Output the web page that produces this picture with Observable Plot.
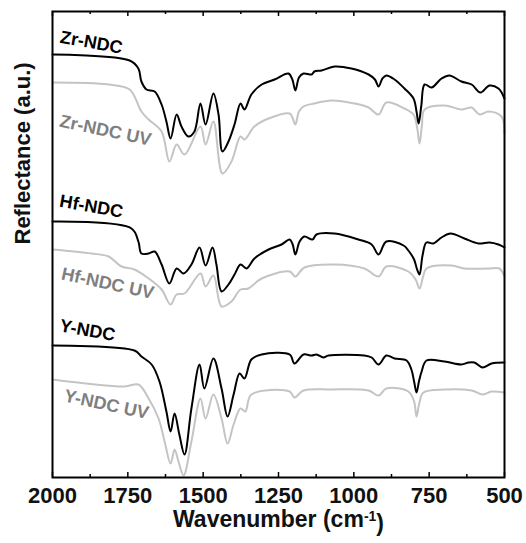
<!DOCTYPE html>
<html>
<head>
<meta charset="utf-8">
<script src="https://cdn.jsdelivr.net/npm/d3@7"></script>
<script src="https://cdn.jsdelivr.net/npm/@observablehq/plot@0.6"></script>
<style>
  html, body { margin: 0; padding: 0; background: #fff; }
  #chart svg { font-family: "Liberation Sans", Arial, Helvetica, sans-serif; }
</style>
</head>
<body>
<div id="chart"></div>
<script>
// ---- Data (wavenumber in cm-1, reflectance in arbitrary units) ----
const zrWn   = [2000,1744,1715,1705,1688,1661,1638,1622,1608,1588,1572,1549,1529,1509,1492,1466,1449,1436,1416,1396,1376,1363,1340,1306,1263,1217,1204,1194,1182,1167,1140,1131,1107,1064,1008,951,930,918,905,892,865,832,802,792,785,776,765,742,709,683,643,609,580,550,520,500];
const zrVal  = [423,417,409,396,388,386,373,356,339,363,351,341,346,374,353,384,363,326,336,353,374,368,383,393,398,404,398,387,400,404,403,406,407,411,409,403,398,391,399,402,398,389,379,366,354,372,393,390,399,402,396,393,385,392,389,379];
const zrUvWn = [2000,1814,1744,1705,1681,1638,1612,1588,1562,1509,1492,1466,1436,1406,1376,1363,1330,1283,1213,1204,1194,1182,1167,1131,1074,998,951,918,892,832,802,790,782,774,765,699,643,609,583,553,510,500];
const zrUvVal= [395,393,388,366,358,346,316,333,323,351,333,356,304,316,341,338,351,359,364,360,353,366,371,374,377,374,370,363,375,369,363,350,334,352,368,372,368,370,363,366,361,344];

const hfWn   = [2000,1738,1715,1705,1681,1661,1638,1612,1588,1565,1539,1512,1492,1469,1456,1439,1416,1396,1376,1356,1330,1283,1240,1213,1203,1194,1180,1164,1137,1124,1064,985,941,918,892,835,819,800,790,782,772,759,736,709,679,633,586,550,520,500];
const hfVal  = [256,249,236,224,224,226,213,194,209,204,213,230,212,230,213,186,193,203,213,209,219,228,233,238,233,223,236,241,238,243,244,238,233,223,236,232,227,218,208,203,222,235,234,240,244,239,234,235,233,230];
const hfUvWn = [2000,1871,1814,1771,1728,1681,1638,1608,1588,1562,1509,1492,1466,1439,1406,1376,1350,1306,1213,1194,1164,1064,965,918,892,819,795,782,770,759,676,633,553,517,500];
const hfUvVal= [228,224,221,211,208,199,188,173,183,184,204,191,202,171,176,188,189,199,206,201,210,213,209,201,211,206,198,189,201,209,212,209,209,209,201];

const yWn    = [2000,1728,1705,1671,1645,1622,1608,1595,1579,1562,1539,1512,1496,1466,1439,1419,1399,1379,1363,1340,1306,1213,1197,1167,1140,1124,1101,1084,965,941,918,892,865,825,809,800,792,784,775,759,699,643,619,600,573,543,500];
const yVal   = [132,127,121,113,96,66,46,64,43,23,69,113,89,119,89,61,83,104,99,118,123,123,114,123,122,123,120,122,122,120,113,122,119,117,108,96,85,96,106,117,116,113,115,115,110,114,115];
const yUvWn  = [2000,1761,1715,1681,1648,1628,1608,1595,1582,1565,1539,1509,1492,1466,1439,1419,1399,1376,1360,1340,1213,1197,1167,1074,951,918,892,819,800,792,783,769,699,609,573,543,500];
const yUvVal = [98,91,93,79,59,36,14,28,16,2,36,79,59,83,59,34,53,69,66,83,86,80,87,88,87,82,89,86,76,61,74,85,88,87,83,86,85];

const seriesNames = ["Zr-NDC","Zr-NDC UV","Hf-NDC","Hf-NDC UV","Y-NDC","Y-NDC UV"];
const labelWn  = [1871,1824,1871,1817,1884,1821];
const labelVal = [435,347,271,194,147,73];

const xTicks = [2000,1750,1500,1250,1000,750,500];
const xMinorTicks = [1875,1625,1375,1125,875,625];
const xTitle = "Wavenumber (cm-1)";
const yTitle = "Reflectance (a.u.)";

// ---- Build tables ----
function toRows(name, wn, val) { return wn.map((w, i) => ({series: name, wn: w, r: val[i]})); }
const blackRows = [
  ...toRows("Zr-NDC", zrWn, zrVal),
  ...toRows("Hf-NDC", hfWn, hfVal),
  ...toRows("Y-NDC", yWn, yVal)
];
const grayRows = [
  ...toRows("Zr-NDC UV", zrUvWn, zrUvVal),
  ...toRows("Hf-NDC UV", hfUvWn, hfUvVal),
  ...toRows("Y-NDC UV", yUvWn, yUvVal)
];
const labels = seriesNames.map((s, i) => ({name: s, wn: labelWn[i], r: labelVal[i], uv: s.endsWith("UV")}));

const W = 526, H = 543;
const mT = 11, mB = 66, mL = 52, mR = 22;
const plotH = H - mT - mB;
const BLACK = "#000000", GRAY = "#c4c4c4", GRAYTXT = "#7f7f7f";

const chart = Plot.plot({
  width: W, height: H,
  marginTop: mT, marginBottom: mB, marginLeft: mL, marginRight: mR,
  style: {fontFamily: '"Liberation Sans", Arial, Helvetica, sans-serif', background: "white", overflow: "visible"},
  x: {domain: [2000, 500], axis: null},
  y: {domain: [0, plotH], axis: null},
  marks: [
    Plot.line(grayRows, {x: "wn", y: "r", z: "series", stroke: GRAY, strokeWidth: 2, curve: "catmull-rom"}),
    Plot.line(blackRows, {x: "wn", y: "r", z: "series", stroke: BLACK, strokeWidth: 2, curve: "catmull-rom"}),
    // inward ticks, bottom and top
    Plot.ruleX(xTicks, {x: d => d, insetTop: plotH - 5, stroke: BLACK, strokeWidth: 1.5}),
    Plot.ruleX(xMinorTicks, {x: d => d, insetTop: plotH - 3, stroke: BLACK, strokeWidth: 1.5}),
    Plot.ruleX(xTicks, {x: d => d, insetBottom: plotH - 5, stroke: BLACK, strokeWidth: 1.5}),
    Plot.ruleX(xMinorTicks, {x: d => d, insetBottom: plotH - 3, stroke: BLACK, strokeWidth: 1.5}),
    Plot.frame({stroke: BLACK, strokeWidth: 2}),
    // tick labels
    Plot.text(xTicks, {x: d => d, text: d => String(d), frameAnchor: "bottom", dy: 18, lineAnchor: "middle",
      fontSize: 22, fontWeight: "bold", fill: "#111"}),
    // axis titles
    Plot.text([xTitle], {text: d => d, frameAnchor: "bottom", dy: 42, lineAnchor: "middle",
      fontSize: 23, fontWeight: "bold", fill: "#111"}),
    Plot.text([yTitle], {text: d => d, frameAnchor: "left", dx: -30, rotate: -90, lineAnchor: "middle",
      fontSize: 22, fontWeight: "bold", fill: "#111"}),
    // series labels
    Plot.text(labels, {x: "wn", y: "r", text: "name", rotate: d => d.uv ? 12 : 10, lineAnchor: "middle", textAnchor: "middle",
      fontSize: 18, fontWeight: "bold", fill: d => d.uv ? GRAYTXT : BLACK})
  ]
});

// superscript for cm-1
d3.select(chart).selectAll("text").each(function() {
  if (this.textContent === xTitle) {
    const t = d3.select(this);
    t.text(null);
    t.append("tspan").text("Wavenumber (cm");
    t.append("tspan").attr("dy", "-0.45em").attr("font-size", "14px").text("-1");
    t.append("tspan").attr("dy", "0.45em").text(")");
  }
});

document.getElementById("chart").appendChild(chart);
</script>
</body>
</html>
